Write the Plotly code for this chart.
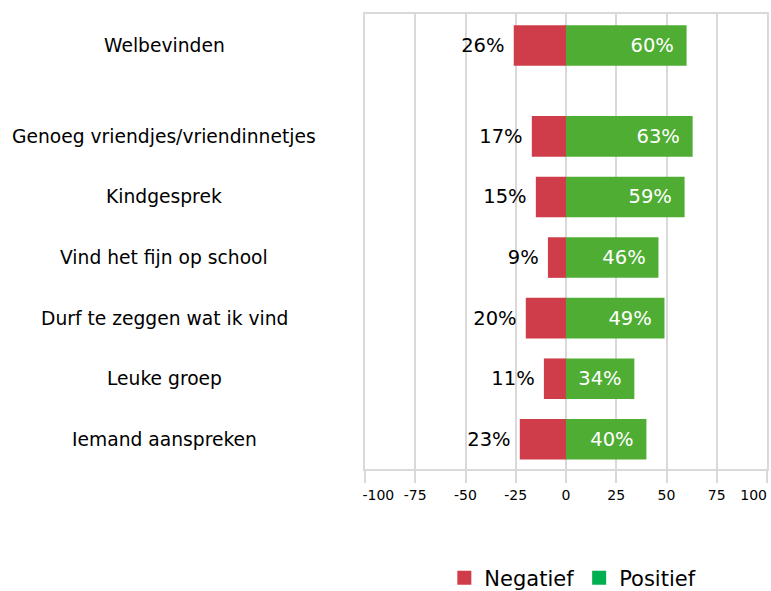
import plotly.graph_objects as go

categories = ["Welbevinden", "Genoeg vriendjes/vriendinnetjes", "Kindgesprek",
              "Vind het fijn op school", "Durf te zeggen wat ik vind",
              "Leuke groep", "Iemand aanspreken"]
negatief = [26, 17, 15, 9, 20, 11, 23]
positief = [60, 63, 59, 46, 49, 34, 40]
tick_vals = [-100, -75, -50, -25, 0, 25, 50, 75, 100]
tick_text = ["-100", "-75", "-50", "-25", "0", "25", "50", "75", "100"]

n = len(categories)
# first category separated by an extra half gap
ypos = [n - 1 - i + (0.5 if i == 0 else 0) for i in range(n)]

RED = "#CF3D4A"
GREEN = "#4FAD33"
LEG_GREEN = "#00B050"
GRID = "#D9D9D9"
FONT = "DejaVu Sans"
FS = "\u2007"  # figure space, to pull the edge tick labels inward

ticktext = list(tick_text)
ticktext[0] = FS * 3 + ticktext[0]
ticktext[-1] = ticktext[-1] + FS * 3

fig = go.Figure()
fig.add_trace(go.Bar(
    y=ypos, x=[-v for v in negatief], orientation="h", width=0.67,
    marker=dict(color=RED, line=dict(width=0)),
    text=[f"{v}%\u00a0" for v in negatief], textposition="outside",
    textfont=dict(family=FONT, size=19.5, color="#000000"),
    constraintext="none", cliponaxis=False, showlegend=False, hoverinfo="skip"))
fig.add_trace(go.Bar(
    y=ypos, x=positief, orientation="h", width=0.67,
    marker=dict(color=GREEN, line=dict(width=0)),
    text=[f"{v}%\u2002" for v in positief], textposition="inside", insidetextanchor="end",
    textfont=dict(family=FONT, size=19.5, color="#FFFFFF"),
    constraintext="none", showlegend=False, hoverinfo="skip"))

# legend entries
fig.add_trace(go.Scatter(x=[None], y=[None], mode="markers", name="Negatief",
                         marker=dict(symbol="square", size=14, color=RED)))
fig.add_trace(go.Scatter(x=[None], y=[None], mode="markers", name="Positief",
                         marker=dict(symbol="square", size=14, color=LEG_GREEN)))

for cat, y in zip(categories, ypos):
    fig.add_annotation(text=cat, xref="paper", yref="y", x=-0.5, y=y,
                       xanchor="center", yanchor="middle", showarrow=False,
                       font=dict(family=FONT, size=18.7, color="#000000"))

fig.update_layout(
    width=771, height=591,
    margin=dict(l=365, r=4, t=14, b=122, autoexpand=False),
    paper_bgcolor="white", plot_bgcolor="white",
    barmode="relative",
    font=dict(family=FONT, color="#000000"),
    legend=dict(orientation="h", x=0.517, xanchor="center", y=-0.24, yanchor="middle",
                font=dict(family=FONT, size=21, color="#000000"),
                itemwidth=30, tracegroupgap=0),
    xaxis=dict(range=[-100, 100], tickvals=tick_vals, ticktext=ticktext,
               showgrid=True, gridcolor=GRID, gridwidth=2, zeroline=False,
               showline=True, linecolor=GRID, linewidth=2, mirror=True,
               ticks="outside", ticklen=12, tickcolor=GRID, tickwidth=2,
               automargin=False, ticklabeloverflow="allow",
               tickfont=dict(family=FONT, size=14, color="#000000")),
    yaxis=dict(range=[-0.49, 7.02], showticklabels=False, showgrid=False,
               zeroline=False, showline=True, linecolor=GRID, linewidth=2, mirror=True,
               ticks="", automargin=False),
)

fig.write_html(
    "out.html",
    config={"displayModeBar": False},
    post_script="document.body.style.margin='0';document.body.style.overflow='hidden';",
)
